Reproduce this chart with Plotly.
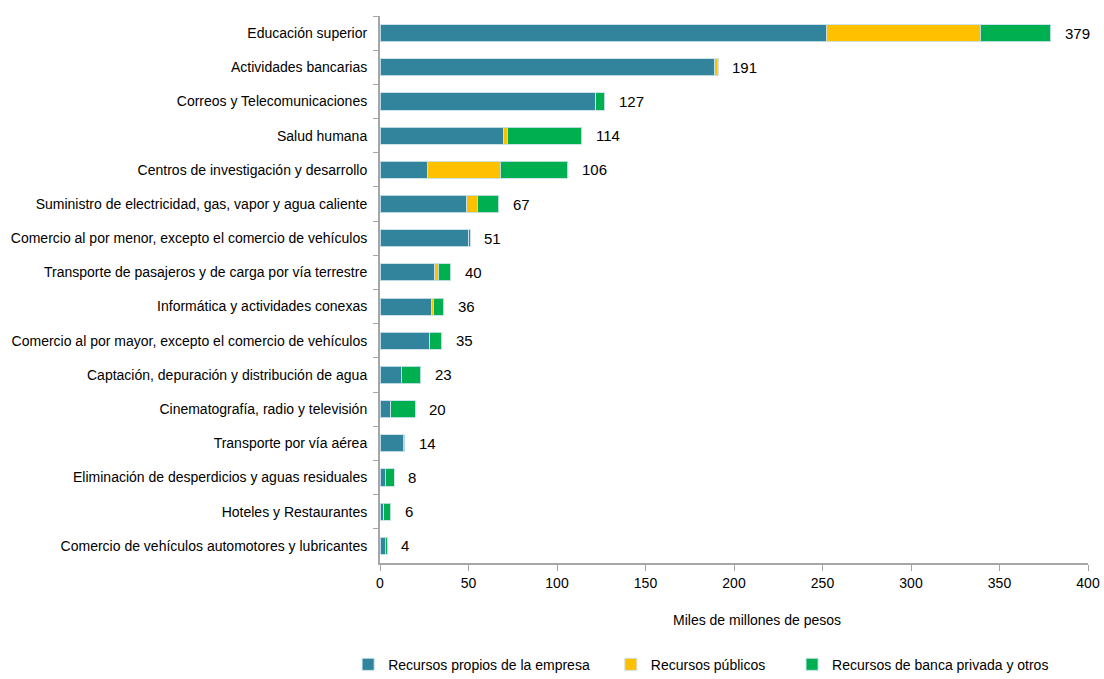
import plotly.graph_objects as go

categories = [
    "Educación superior",
    "Actividades bancarias",
    "Correos y Telecomunicaciones",
    "Salud humana",
    "Centros de investigación y desarrollo",
    "Suministro de electricidad, gas, vapor y agua caliente",
    "Comercio al por menor, excepto el comercio de vehículos",
    "Transporte de pasajeros y de carga por vía terrestre",
    "Informática y actividades conexas",
    "Comercio al por mayor, excepto el comercio de vehículos",
    "Captación, depuración y distribución de agua",
    "Cinematografía, radio y televisión",
    "Transporte por vía aérea",
    "Eliminación de desperdicios y aguas residuales",
    "Hoteles y Restaurantes",
    "Comercio de vehículos automotores y lubricantes",
]
propios = [252, 189, 122, 70, 27, 49, 50, 31, 29, 28, 12, 6, 13, 3, 2, 3]
publicos = [87, 1.5, 0, 2, 41, 6, 0, 2, 1, 0, 0, 0, 0, 0, 0, 0]
privada = [40, 0.5, 5, 42, 38, 12, 1, 7, 6, 7, 11, 14, 1, 5, 4, 1]
totales = [379, 191, 127, 114, 106, 67, 51, 40, 36, 35, 23, 20, 14, 8, 6, 4]

series_names = ["Recursos propios de la empresa", "Recursos públicos",
                "Recursos de banca privada y otros"]
colors = ["#31849B", "#FFC000", "#00B050"]
legend_ids = ["legend", "legend2", "legend3"]
legend_x = [-0.045, 0.326, 0.582]

FONT = "Liberation Sans Narrow, Arial Narrow, Liberation Sans, sans-serif"

fig = go.Figure()
for name, vals, col, lid in zip(series_names, [propios, publicos, privada], colors, legend_ids):
    fig.add_trace(go.Bar(
        y=categories, x=vals, name=name, orientation="h",
        marker=dict(color=col, line=dict(color="rgba(200,225,235,0.9)", width=1)),
        width=0.5, legend=lid, showlegend=True,
    ))

for cat, tot in zip(categories, totales):
    fig.add_annotation(x=tot, y=cat, text=str(tot), showarrow=False,
                       xanchor="left", xshift=12,
                       font=dict(size=15, color="#000000", family=FONT))

fig.add_annotation(x=0.533, y=-0.104, xref="paper", yref="paper",
                   text="Miles de millones de pesos", showarrow=False,
                   yanchor="middle",
                   font=dict(size=14, color="#000000", family=FONT))

leg_common = dict(orientation="h", y=-0.186, yanchor="middle", xanchor="left",
                  font=dict(size=14, family=FONT), itemwidth=30,
                  bgcolor="rgba(0,0,0,0)", visible=True)
layout_legends = {}
for lid, lx in zip(legend_ids, legend_x):
    layout_legends[lid] = dict(leg_common, x=lx)

fig.update_layout(
    width=1104, height=679,
    margin=dict(l=380, r=16, t=16, b=116, autoexpand=False),
    barmode="stack",
    showlegend=True,
    plot_bgcolor="white", paper_bgcolor="white",
    font=dict(family=FONT, size=14, color="#000000"),
    bargap=0.5,
    **layout_legends,
)
fig.update_xaxes(range=[0, 400], dtick=50, showgrid=False, zeroline=False,
                 showline=True, linecolor="#A6A6A6", linewidth=2,
                 ticks="outside", ticklen=6, tickcolor="#A6A6A6",
                 tickfont=dict(size=14, family=FONT))
fig.update_yaxes(autorange="reversed", showgrid=False, showline=True,
                 linecolor="#A6A6A6", linewidth=2, ticks="outside",
                 tickson="boundaries", ticklen=5, tickcolor="#A6A6A6",
                 ticklabelstandoff=8,
                 tickfont=dict(size=14, family=FONT))

fig.write_html("out.html")
